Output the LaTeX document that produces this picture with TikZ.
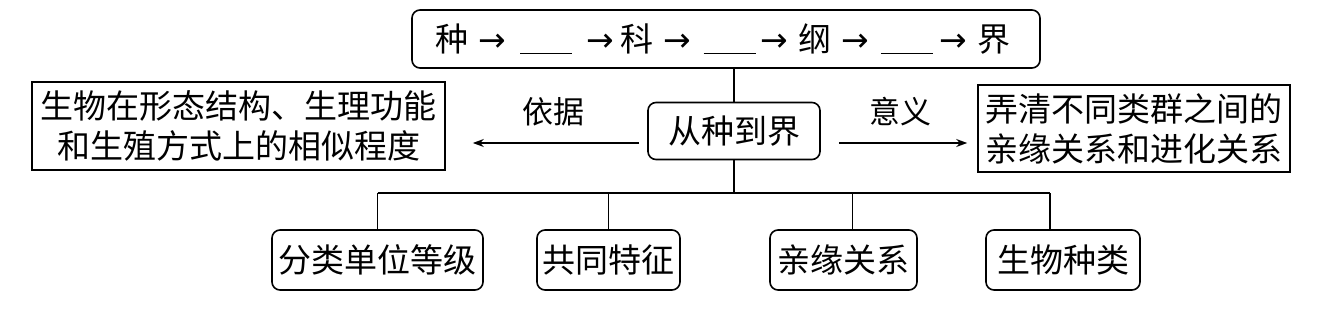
\documentclass[tikz,border=0pt]{standalone}
\usepackage{fontspec}
\newfontfamily\cjk{Noto Sans CJK SC}
\newfontfamily\sym{DejaVu Sans}
\usetikzlibrary{arrows.meta}
\newcommand{\blankline}{\rule[-3pt]{52pt}{1.5pt}}
\newcommand{\arrowsym}{{\sym →}}
\begin{document}
\begin{tikzpicture}[x=1pt,y=-1pt,
  box/.style={draw, line width=1.6pt, font=\cjk\fontsize{33}{40}\selectfont, inner sep=0pt, align=center},
  rbox/.style={box, rounded corners=8pt},
  lbl/.style={font=\cjk\fontsize{31}{36}\selectfont, inner sep=0pt},
  arr/.style={line width=1.5pt, -{Stealth[length=11pt,width=8pt]}},
  conn/.style={line width=1.5pt}]
\useasboundingbox (0,0) rectangle (1319,318);
\node[rbox, minimum width=628, minimum height=58] (top) at (726,39)
  {\hspace{-6pt}种\hspace{10pt}\arrowsym\hspace{14pt}\blankline\hspace{14pt}\arrowsym\hspace{7pt}科\hspace{10pt}\arrowsym\hspace{12pt}\blankline\hspace{5pt}\arrowsym\hspace{10pt}纲\hspace{10pt}\arrowsym\hspace{12pt}\blankline\hspace{7pt}\arrowsym\hspace{10pt}界};
\node[rbox, minimum width=172, minimum height=57] (c) at (734,131) {从种到界};
\node[box, minimum width=413, minimum height=88] (L) at (238.5,126) {生物在形态结构、生理功能\\和生殖方式上的相似程度};
\node[box, minimum width=312, minimum height=87] (R) at (1134,128.5) {弄清不同类群之间的\\亲缘关系和进化关系};
\node[rbox, minimum width=211, minimum height=60] (b1) at (377.5,260) {分类单位等级};
\node[rbox, minimum width=143, minimum height=60] (b2) at (608.5,260) {共同特征};
\node[rbox, minimum width=147, minimum height=60] (b3) at (843.5,260) {亲缘关系};
\node[rbox, minimum width=154, minimum height=60] (b4) at (1063,260) {生物种类};
\node[lbl] (l1) at (553,112) {依据};
\node[lbl] (l2) at (900,112) {意义};
\draw[conn] (c.north) -- (c.north |- top.south);
\coordinate (j) at (734,193);
\draw[conn] (c.south) -- (j);
\coordinate (t1) at (b1.north);
\coordinate (t2) at (b2.north);
\coordinate (t3) at ([xshift=9pt]b3.north);
\coordinate (t4) at ([xshift=-13pt]b4.north);
\draw[conn] (t1 |- j) -- (t4 |- j);
\foreach \t in {t1,t2,t3,t4} \draw[conn] (\t |- j) -- (\t);
\coordinate (la) at ([xshift=-8pt,yshift=-12pt]c.west);
\draw[arr, shorten >=27pt] (la) -- (la -| L.east);
\coordinate (ra) at ([xshift=18pt,yshift=-12pt]c.east);
\draw[arr, shorten >=10pt] (ra) -- (ra -| R.west);
\end{tikzpicture}
\end{document}
